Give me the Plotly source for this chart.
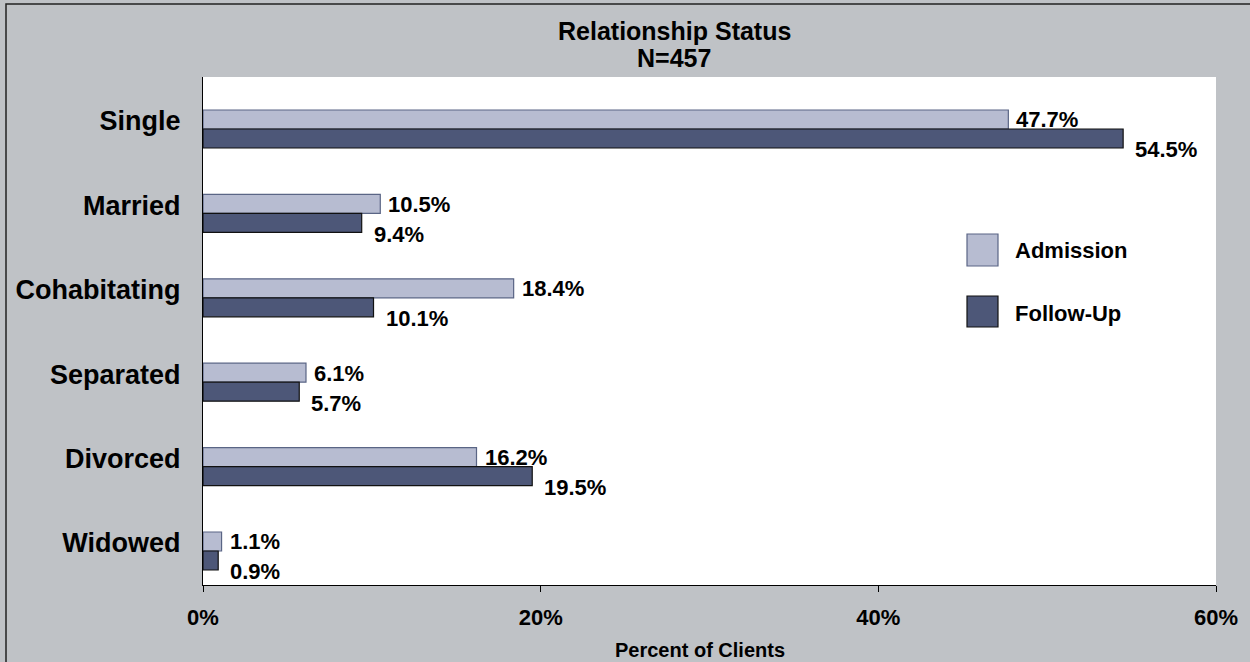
import plotly.graph_objects as go

categories = ["Single", "Married", "Cohabitating", "Separated", "Divorced", "Widowed"]
admission = [47.7, 10.5, 18.4, 6.1, 16.2, 1.1]
follow_up = [54.5, 9.4, 10.1, 5.7, 19.5, 0.9]
series_names = ["Admission", "Follow-Up"]
x_ticks = [0, 20, 40, 60]
x_tick_labels = ["0%", "20%", "40%", "60%"]
title_lines = ["Relationship Status", "N=457"]
x_title = "Percent of Clients"

FONT = "Liberation Sans, Arial, sans-serif"
BG = "#BFC2C6"
ADM_FILL, ADM_LINE = "#B7BCD1", "#5A6585"
FU_FILL, FU_LINE = "#4D5778", "#111111"

W, H = 1250, 662
L, R, T, B = 203, 34, 77, 77
pw, ph = W - L - R, H - T - B


def px_x(x):
    return (x - L) / pw


def px_y(y):
    return (H - B - y) / ph


idx = list(range(len(categories)))

fig = go.Figure()
fig.add_trace(go.Bar(
    y=idx, x=admission, orientation="h", name=series_names[0],
    marker=dict(color=ADM_FILL, line=dict(color=ADM_LINE, width=1.2)),
    customdata=categories, hovertemplate="%{customdata}: %{x}%<extra>Admission</extra>",
))
fig.add_trace(go.Bar(
    y=idx, x=follow_up, orientation="h", name=series_names[1],
    marker=dict(color=FU_FILL, line=dict(color=FU_LINE, width=1.2)),
    customdata=categories, hovertemplate="%{customdata}: %{x}%<extra>Follow-Up</extra>",
))

annotations = []
lab_font = dict(family=FONT, size=22, color="black")
for i, v in zip(idx, admission):
    annotations.append(dict(x=v, y=i, xref="x", yref="y", text=f"<b>{v:.1f}%</b>",
                            showarrow=False, xanchor="left", yanchor="middle",
                            xshift=6, yshift=9, font=lab_font))
for i, v in zip(idx, follow_up):
    annotations.append(dict(x=v, y=i, xref="x", yref="y", text=f"<b>{v:.1f}%</b>",
                            showarrow=False, xanchor="left", yanchor="middle",
                            xshift=10, yshift=-21, font=lab_font))

# title
for line, yc in zip(title_lines, (31, 58)):
    annotations.append(dict(x=px_x(674), y=px_y(yc), xref="paper", yref="paper",
                            text=f"<b>{line}</b>", showarrow=False,
                            xanchor="center", yanchor="middle",
                            font=dict(family=FONT, size=25, color="black")))
# x-axis title
annotations.append(dict(x=px_x(700), y=px_y(650), xref="paper", yref="paper",
                        text=f"<b>{x_title}</b>", showarrow=False,
                        xanchor="center", yanchor="middle",
                        font=dict(family=FONT, size=20, color="black")))

# custom legend
shapes = []
leg = [(series_names[0], ADM_FILL, ADM_LINE, 234, 266, 251),
       (series_names[1], FU_FILL, FU_LINE, 296, 327, 313)]
for name, fill, line, y0, y1, yc in leg:
    shapes.append(dict(type="rect", xref="paper", yref="paper",
                       x0=px_x(967), x1=px_x(998), y0=px_y(y1), y1=px_y(y0),
                       fillcolor=fill, line=dict(color=line, width=1.2)))
    annotations.append(dict(x=px_x(1013), y=px_y(yc), xref="paper", yref="paper",
                            text=f"<b>{name}</b>", showarrow=False,
                            xanchor="left", yanchor="middle",
                            font=dict(family=FONT, size=22, color="black")))

# outer frame (cropped at right/bottom)
shapes.append(dict(type="rect", xref="paper", yref="paper", layer="above",
                   x0=px_x(6), x1=px_x(1270), y0=px_y(690), y1=px_y(4),
                   fillcolor="rgba(0,0,0,0)", line=dict(color="#222", width=1.5)))

fig.update_layout(
    width=W, height=H,
    margin=dict(l=L, r=R, t=T, b=B, autoexpand=False),
    paper_bgcolor=BG, plot_bgcolor="white",
    barmode="group", bargap=0.55, bargroupgap=0,
    showlegend=False,
    font=dict(family=FONT, color="black"),
    annotations=annotations, shapes=shapes,
)
fig.update_xaxes(
    range=[0, 60], tickvals=x_ticks, ticktext=[f"<b>{t}</b>" for t in x_tick_labels],
    ticks="outside", ticklen=6, tickcolor="black", tickwidth=1,
    showgrid=False, zeroline=False, showline=True, linecolor="black", linewidth=1.2,
    tickfont=dict(family=FONT, size=22, color="black"), ticklabelstandoff=6,
    fixedrange=True,
)
fig.update_yaxes(
    range=[5.403, -0.616],
    tickvals=idx, ticktext=[f"<b>{c}</b>" for c in categories],
    ticks="", showgrid=False, zeroline=False, showline=True, linecolor="black", linewidth=1.2,
    tickfont=dict(family=FONT, size=27, color="black"), ticklabelstandoff=16,
    ticklabelshift=8,
    fixedrange=True,
)

fig.write_html("out.html", config={"displayModeBar": False},
               post_script="document.body.style.margin='0px';document.body.style.padding='0px';")
